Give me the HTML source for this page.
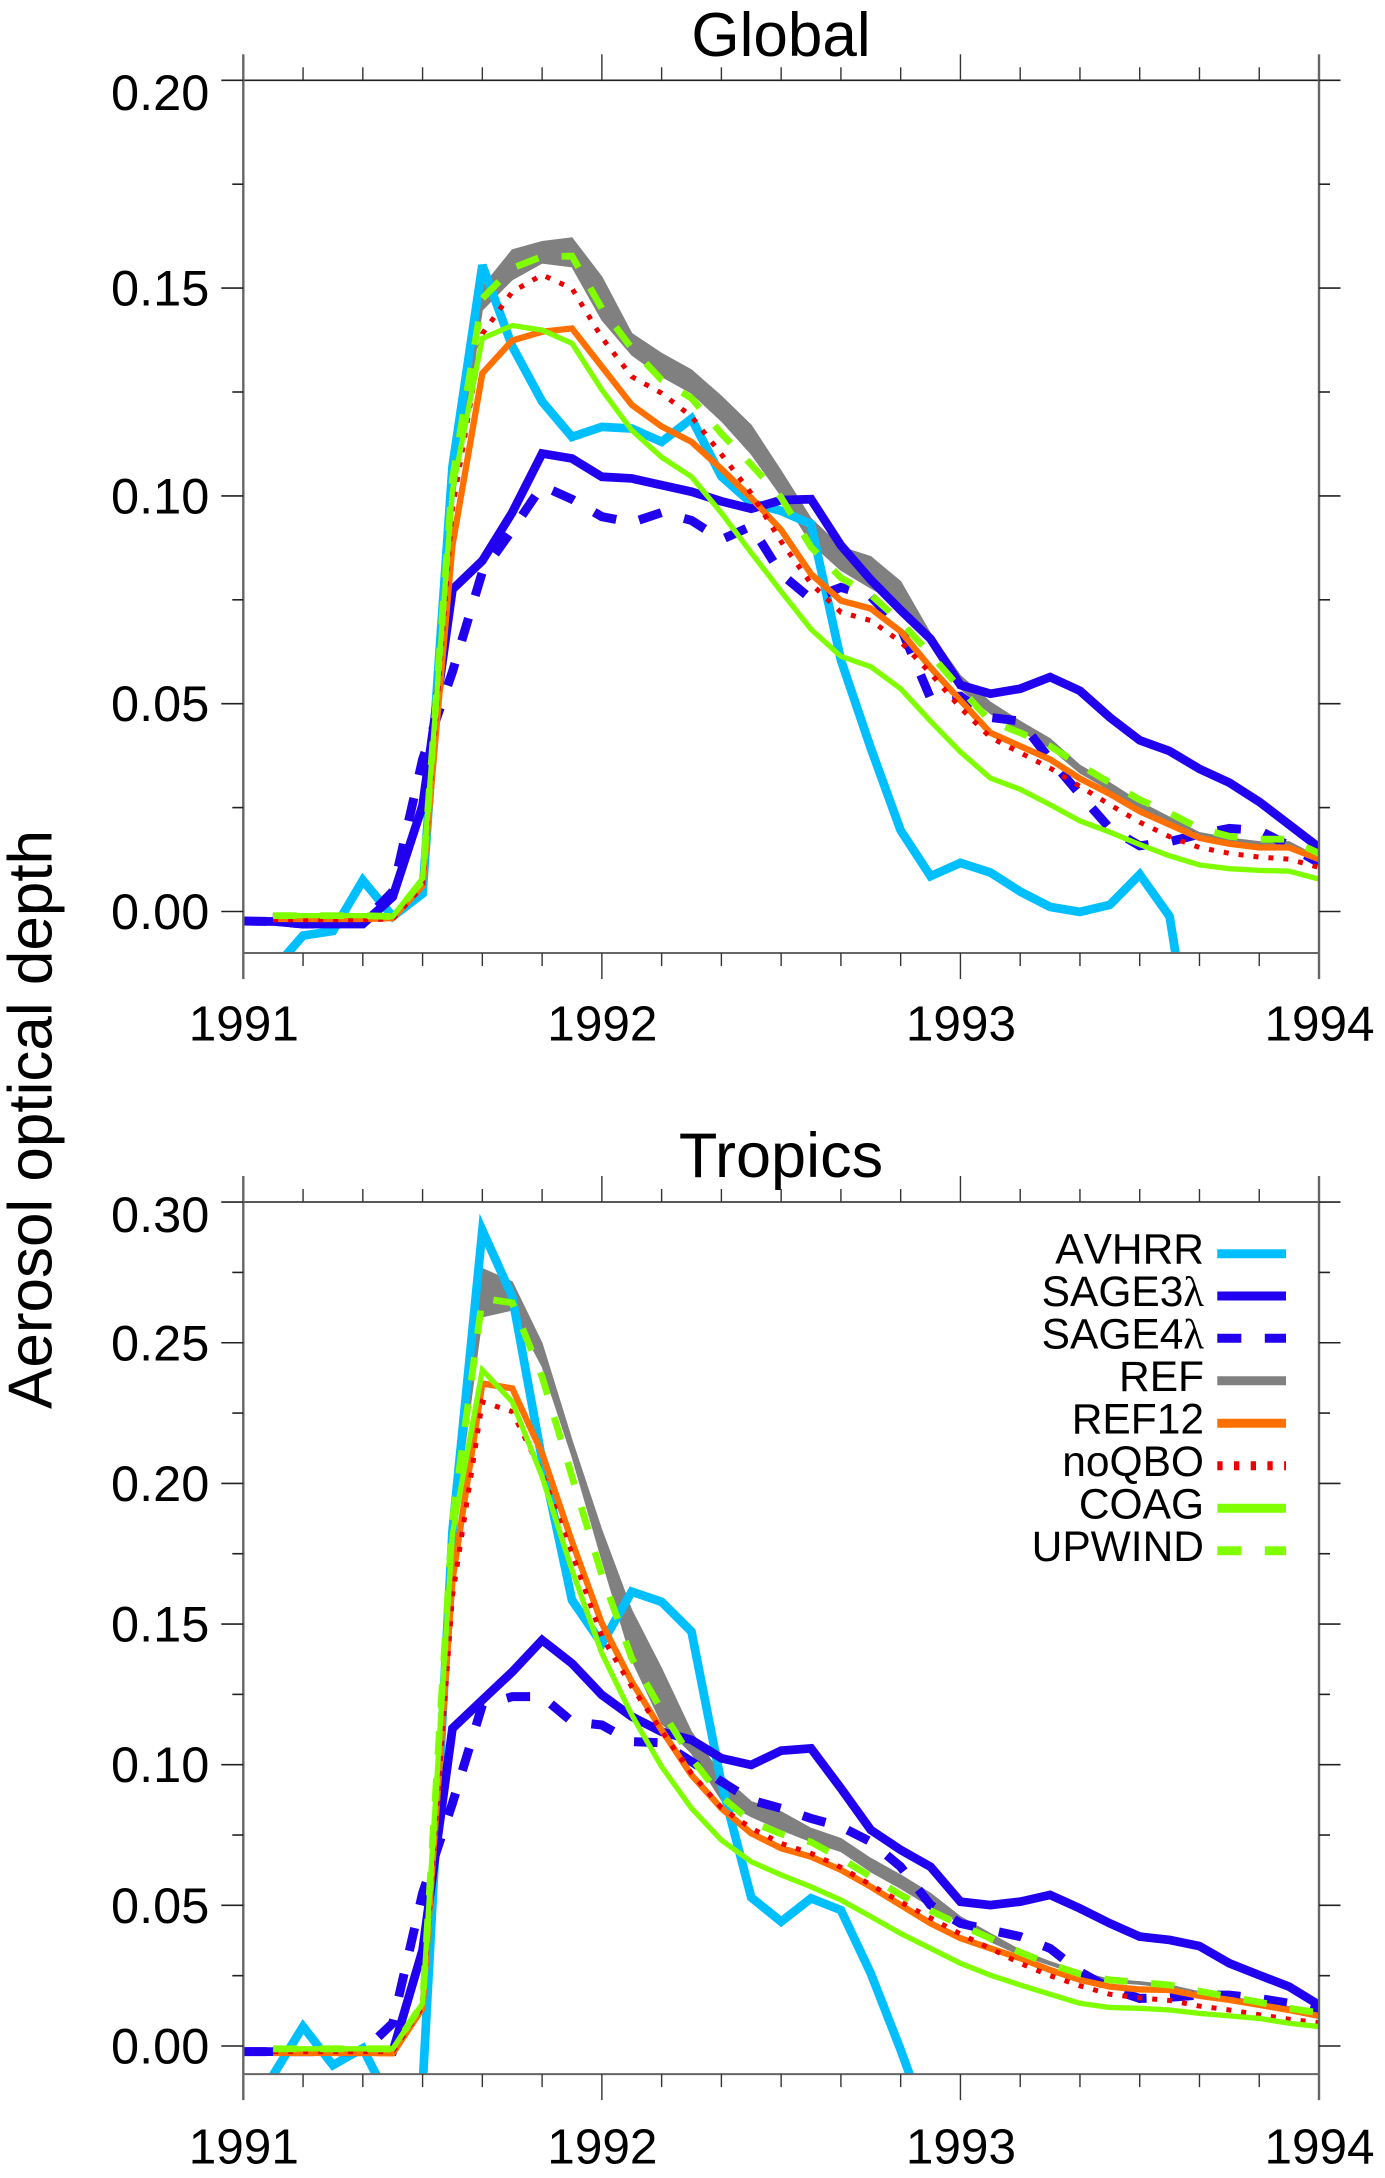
<!DOCTYPE html>
<html lang="en">
<head>
<meta charset="utf-8">
<title>Aerosol optical depth</title>
<style>
html,body{margin:0;padding:0;background:#fff;}
svg{display:block;font-family:"Liberation Sans",sans-serif;}
#legend text{font-kerning:none;}
</style>
</head>
<body>
<svg id="chart" xmlns="http://www.w3.org/2000/svg" width="1385" height="2178" viewBox="0 0 1385 2178">
  <rect x="0" y="0" width="1385" height="2178" fill="#fff"/>
  <defs>
    <clipPath id="clip-global"><rect x="243.3" y="80.3" width="1075.7" height="872.3"/></clipPath>
    <clipPath id="clip-tropics"><rect x="243.3" y="1202" width="1075.7" height="872"/></clipPath>
  </defs>
  <text x="781" y="56" font-size="62" text-anchor="middle">Global</text>
  <text x="781" y="1177" font-size="63" text-anchor="middle">Tropics</text>
  <text transform="translate(51.7 1119.5) rotate(-90)" font-size="62" text-anchor="middle">Aerosol optical depth</text>
  <g id="panel-global"></g>
  <g id="panel-tropics"></g>
  <g id="legend" font-size="42.5" text-anchor="end">
    <g><text x="1204" y="1263.3">AVHRR</text><line x1="1217.3" x2="1286" y1="1253.7" y2="1253.7" stroke="#00BFFF" stroke-width="9"/></g>
    <g><text x="1204" y="1305.8">SAGE3<tspan font-family="'Liberation Serif',serif">λ</tspan></text><line x1="1217.3" x2="1286" y1="1296" y2="1296" stroke="#2000EE" stroke-width="9"/></g>
    <g><text x="1204" y="1348.3">SAGE4<tspan font-family="'Liberation Serif',serif">λ</tspan></text><line x1="1217.3" x2="1286" y1="1338.3" y2="1338.3" stroke="#2000EE" stroke-width="9" stroke-dasharray="24 23.5"/></g>
    <g><text x="1204" y="1390.8">REF</text><line x1="1217.3" x2="1286" y1="1380.7" y2="1380.7" stroke="#808080" stroke-width="9"/></g>
    <g><text x="1204" y="1433.3">REF12</text><line x1="1217.3" x2="1286" y1="1423.3" y2="1423.3" stroke="#FF7000" stroke-width="9"/></g>
    <g><text x="1204" y="1475.8">noQBO</text><line x1="1217.3" x2="1286" y1="1465.7" y2="1465.7" stroke="#EE0000" stroke-width="9" stroke-dasharray="5.3 11.4"/></g>
    <g><text x="1204" y="1518.3">COAG</text><line x1="1217.3" x2="1286" y1="1508.3" y2="1508.3" stroke="#7FFF00" stroke-width="9"/></g>
    <g><text x="1204" y="1560.8">UPWIND</text><line x1="1217.3" x2="1286" y1="1550.7" y2="1550.7" stroke="#7FFF00" stroke-width="9" stroke-dasharray="24 23.5"/></g>
  </g>
</svg>
<script>
// ---- shared tick data ----
const xYearLabels = ["1991", "1992", "1993", "1994"];
const yLabelsGlobal = ["0.00", "0.05", "0.10", "0.15", "0.20"];
const yLabelsTropics = ["0.00", "0.05", "0.10", "0.15", "0.20", "0.25", "0.30"];

// ---- Global panel series (monthly, Jan 1991 to Jan 1994) ----
const globalAvhrr = [null,-0.014,-0.0058,-0.0047,0.0075,-0.0012,0.0043,0.107,0.1555,0.136,0.1227,0.1142,0.1166,0.1162,0.113,0.1186,0.1047,0.0983,0.0964,0.0932,0.0605,0.0393,0.0195,0.0085,0.0117,0.0094,0.0048,0.0011,-0.0001,0.0016,0.0089,-0.0012,-0.046,null,null,null,null];
const globalSage3 = [-0.0023,-0.0024,-0.003,-0.003,-0.003,0.0035,0.0255,0.0775,0.0844,0.096,0.1102,0.109,0.1046,0.1042,0.1026,0.101,0.0987,0.0969,0.099,0.0992,0.0881,0.0798,0.0725,0.0656,0.0545,0.0524,0.0536,0.0564,0.0531,0.0467,0.0412,0.0386,0.0343,0.031,0.0264,0.0209,0.0154];
const globalSage4 = [-0.0023,-0.0024,-0.003,-0.003,-0.0026,0.0048,0.0366,0.0577,0.0817,0.0918,0.1024,0.0992,0.095,0.0936,0.096,0.0941,0.0895,0.0927,0.0812,0.0752,0.078,0.0758,0.0683,0.0513,0.0518,0.0467,0.0458,0.0366,0.0282,0.02,0.0158,0.0168,0.0186,0.02,0.0195,0.0158,0.0117];
const globalRefUpper = [null,-0.0005,-0.0005,-0.0005,-0.0005,-0.0005,0.0075,0.102,0.1503,0.1592,0.1612,0.1621,0.1527,0.1391,0.1343,0.1303,0.124,0.117,0.106,0.0946,0.0877,0.0854,0.0794,0.0669,0.0568,0.0504,0.0458,0.0416,0.0352,0.031,0.0264,0.0227,0.019,0.0177,0.0168,0.0168,0.0131];
const globalRefLower = [null,-0.002,-0.002,-0.002,-0.002,-0.002,0.005,0.097,0.1447,0.152,0.156,0.1551,0.1423,0.1339,0.1287,0.1247,0.118,0.11,0.1,0.0886,0.0821,0.0778,0.0738,0.0655,0.0536,0.0476,0.0435,0.0393,0.0333,0.0292,0.025,0.0218,0.0186,0.0168,0.0158,0.0158,0.0117];
const globalRef12 = [null,-0.0018,-0.0018,-0.0018,-0.0018,-0.0016,0.0062,0.0881,0.1295,0.1374,0.1395,0.1403,0.1311,0.1219,0.1167,0.113,0.1065,0.0995,0.0918,0.0812,0.0748,0.0729,0.0674,0.0587,0.0508,0.043,0.0398,0.0366,0.032,0.0283,0.0241,0.0209,0.0177,0.0163,0.0154,0.0154,0.0126];
const globalNoqbo = [null,-0.002,-0.002,-0.002,-0.002,-0.0018,0.006,0.097,0.139,0.1491,0.1532,0.1499,0.1381,0.1287,0.1247,0.1191,0.11,0.1006,0.089,0.0789,0.072,0.07,0.0649,0.0573,0.049,0.0419,0.0382,0.0345,0.0301,0.0257,0.0215,0.018,0.0154,0.014,0.0131,0.0126,0.0106];
const globalCoag = [null,-0.001,-0.001,-0.001,-0.001,-0.0012,0.008,0.1014,0.1379,0.141,0.1399,0.1367,0.1255,0.1158,0.1093,0.1046,0.0959,0.0863,0.077,0.0679,0.0614,0.0589,0.0536,0.0458,0.0384,0.0321,0.0294,0.0257,0.0218,0.0191,0.0161,0.0134,0.0112,0.0103,0.0099,0.0097,0.0078];
const globalUpwind = [null,-0.001,-0.001,-0.001,-0.001,-0.0012,0.0075,0.104,0.1475,0.1548,0.1576,0.1577,0.1451,0.1355,0.1279,0.1235,0.115,0.1075,0.0996,0.0877,0.0803,0.0762,0.0697,0.0619,0.0536,0.0458,0.043,0.0398,0.0352,0.031,0.0269,0.0237,0.02,0.0181,0.0174,0.0174,0.014];

// ---- Tropics panel series ----
const tropicsAvhrr = [null,-0.0103,0.0069,-0.0068,-0.0008,-0.0219,-0.0145,0.183,0.29,0.2664,0.2083,0.1585,0.143,0.1615,0.1579,0.1473,0.0934,0.0528,0.0442,0.0525,0.0483,0.0258,-0.0014,-0.0306,null,null,null,null,null,null,null,null,null,null,null,null,null];
const tropicsSage3 = [-0.002,-0.002,-0.002,-0.002,-0.002,-0.002,0.0341,0.1129,0.123,0.133,0.1443,0.136,0.1248,0.1171,0.1117,0.1088,0.1023,0.0999,0.105,0.1058,0.0916,0.0768,0.0697,0.0637,0.0513,0.0501,0.0513,0.0537,0.0489,0.0436,0.0389,0.0377,0.0355,0.0294,0.0252,0.0211,0.0146];
const tropicsSage4 = [-0.002,-0.002,-0.002,-0.002,-0.002,0.0081,0.0543,0.0863,0.1212,0.1242,0.1242,0.1153,0.1141,0.1082,0.1078,0.1011,0.094,0.0874,0.0845,0.0809,0.078,0.0726,0.0637,0.0501,0.0436,0.0412,0.0389,0.0347,0.0264,0.0205,0.0169,0.0173,0.0181,0.0181,0.0169,0.0152,0.0122];
const tropicsRefUpper = [null,-0.0005,-0.0005,-0.0005,-0.0005,-0.0005,0.0155,0.187,0.2764,0.2717,0.2498,0.2154,0.1834,0.155,0.1342,0.1117,0.0963,0.0869,0.0833,0.0774,0.0738,0.0667,0.0608,0.0543,0.046,0.04,0.0341,0.03,0.0264,0.0237,0.0229,0.0217,0.0193,0.0175,0.0158,0.014,0.0122];
const tropicsRefLower = [null,-0.002,-0.002,-0.002,-0.002,-0.002,0.0135,0.18,0.2592,0.2616,0.2415,0.2095,0.1727,0.1372,0.1147,0.104,0.0874,0.0815,0.0768,0.0726,0.0691,0.0619,0.056,0.0495,0.0436,0.0371,0.0323,0.0288,0.0252,0.0227,0.0219,0.0207,0.0183,0.0165,0.0148,0.013,0.0112];
const tropicsRef12 = [null,-0.0025,-0.0025,-0.0025,-0.0025,-0.0026,0.0134,0.1656,0.2355,0.2338,0.2107,0.1793,0.1502,0.1295,0.1123,0.0963,0.0845,0.0756,0.0703,0.0673,0.0626,0.0566,0.0501,0.0436,0.0383,0.0347,0.0312,0.027,0.0235,0.0211,0.0201,0.0199,0.0178,0.0164,0.0146,0.0128,0.0107];
const tropicsNoqbo = [null,-0.002,-0.002,-0.002,-0.002,-0.002,0.014,0.16,0.229,0.2255,0.2036,0.1751,0.1455,0.1277,0.112,0.0969,0.0847,0.0774,0.072,0.0685,0.0635,0.0573,0.0512,0.0455,0.0398,0.0347,0.0294,0.025,0.0214,0.0184,0.0171,0.0162,0.0142,0.0128,0.0111,0.0095,0.0083];
const tropicsCoag = [null,-0.001,-0.001,-0.001,-0.001,-0.001,0.0152,0.1822,0.2403,0.229,0.2024,0.1692,0.1396,0.1177,0.0993,0.0845,0.0732,0.0655,0.0608,0.0566,0.0519,0.046,0.04,0.0347,0.0294,0.0252,0.0217,0.0184,0.0152,0.0137,0.0134,0.0128,0.0116,0.0107,0.0098,0.0081,0.0069];
const tropicsUpwind = [null,-0.001,-0.001,-0.001,-0.001,-0.001,0.0152,0.187,0.2658,0.2642,0.2379,0.2024,0.1674,0.1378,0.1194,0.1023,0.0886,0.0797,0.0754,0.0725,0.0667,0.0602,0.0537,0.0481,0.043,0.0383,0.0333,0.0291,0.0256,0.0235,0.0226,0.0217,0.0195,0.0175,0.0156,0.0134,0.0118];

const NS = "http://www.w3.org/2000/svg";
const xLeft = 243.3, xRight = 1319, monthsTotal = 36;
function xScale(m) { return xLeft + (xRight - xLeft) * m / monthsTotal; }

function make(parent, tag, attrs) {
  const el = document.createElementNS(NS, tag);
  for (const k in attrs) el.setAttribute(k, attrs[k]);
  parent.appendChild(el);
  return el;
}

function pathFrom(values, y) {
  let d = "", pen = false;
  values.forEach(function (v, m) {
    if (v === null) { pen = false; return; }
    d += (pen ? "L" : "M") + xScale(m).toFixed(2) + " " + y(v).toFixed(2);
    pen = true;
  });
  return d;
}

function drawSeries(g, values, y, color, width, dash, name) {
  const p = make(g, "path", {d: pathFrom(values, y), fill: "none", stroke: color, "stroke-width": width});
  
  
  if (dash) p.setAttribute("stroke-dasharray", dash);
}

function drawBand(g, upper, lower, y, color, name) {
  let d = "", started = false;
  upper.forEach(function (v, m) {
    if (v === null) return;
    d += (started ? "L" : "M") + xScale(m).toFixed(2) + " " + y(v).toFixed(2);
    started = true;
  });
  for (let m = lower.length - 1; m >= 0; m--) {
    if (lower[m] === null) continue;
    d += "L" + xScale(m).toFixed(2) + " " + y(lower[m]).toFixed(2);
  }
  const p = make(g, "path", {d: d + "Z", fill: color, stroke: color, "stroke-width": 1});
  
  
}

function drawAxes(g, cfg) {
  const y = cfg.y, ink = "#222", axisInk = "#666";
  // horizontal frame
  const top = make(g, "line", {x1: xLeft, x2: xRight, y1: cfg.top, y2: cfg.top, stroke: ink, "stroke-width": 1.6});
  
  
  const bottom = make(g, "line", {x1: xLeft, x2: xRight, y1: cfg.bottom, y2: cfg.bottom, stroke: axisInk, "stroke-width": 2});
  
  
  // x ticks every 2 months, both edges
  for (let m = 0; m <= monthsTotal; m += 2) {
    const major = m % 12 === 0;
    const len = major ? 26 : 13;
    const w = (m === 0 || m === monthsTotal) ? 2.4 : 1.4;
    const c = (m === 0 || m === monthsTotal) ? axisInk : "#333";
    const tb = make(g, "line", {x1: xScale(m), x2: xScale(m), y1: cfg.bottom, y2: cfg.bottom + len, stroke: c, "stroke-width": w});
    
    
    const tt = make(g, "line", {x1: xScale(m), x2: xScale(m), y1: cfg.top, y2: cfg.top - len, stroke: c, "stroke-width": w});
    
    
  }
  // vertical axes
  const left = make(g, "line", {x1: xLeft, x2: xLeft, y1: cfg.top, y2: cfg.bottom, stroke: axisInk, "stroke-width": 2.4});
  
  
  const right = make(g, "line", {x1: xRight, x2: xRight, y1: cfg.top, y2: cfg.bottom, stroke: axisInk, "stroke-width": 2.4});
  
  
  // y ticks
  cfg.yLabels.forEach(function (lab, i) {
    const v = parseFloat(lab);
    const py = y(v);
    const isTopLabel = i === cfg.yLabels.length - 1;
    const t1 = make(g, "line", {x1: xLeft - 22, x2: xLeft, y1: py, y2: py, stroke: ink, "stroke-width": 1.6});
    
    
    const t2 = make(g, "line", {x1: xRight, x2: xRight + 21.5, y1: py, y2: py, stroke: ink, "stroke-width": 1.6});
    
    
    const tx = make(g, "text", {x: xLeft - 34, y: py + 17.5 + (isTopLabel ? 12.4 : 0), "font-size": 50.5, "text-anchor": "end", fill: "#000"});
    
    
    tx.textContent = lab;
    if (!isTopLabel) {
      const mid = y(v + 0.025);
      const m1 = make(g, "line", {x1: xLeft - 11, x2: xLeft, y1: mid, y2: mid, stroke: ink, "stroke-width": 1.6});
      
      
      const m2 = make(g, "line", {x1: xRight, x2: xRight + 11, y1: mid, y2: mid, stroke: ink, "stroke-width": 1.6});
      
      
    }
  });
  // x labels
  xYearLabels.forEach(function (lab, i) {
    const tx = make(g, "text", {x: xScale(i * 12) + 0.5, y: cfg.labelY, "font-size": 49.5, "text-anchor": "middle", fill: "#000"});
    
    
    tx.textContent = lab;
  });
}

function drawPanel(cfg) {
  const g = document.getElementById(cfg.id);
  const yMin = -0.01, y0 = cfg.zeroY, k = cfg.pxPerUnit;
  cfg.y = function (v) { return y0 - v * k; };
  cfg.bottom = cfg.y(yMin);
  const s = make(g, "g", {"clip-path": "url(#" + cfg.clip + ")"});
  
  
  drawBand(s, cfg.refU, cfg.refL, cfg.y, "#808080", "series-ref");
  drawSeries(s, cfg.avhrr, cfg.y, "#00BFFF", 8.7, null, "series-avhrr");
  drawSeries(s, cfg.sage4, cfg.y, "#2000EE", 9, "23.5 23.5", "series-sage4");
  drawSeries(s, cfg.sage3, cfg.y, "#2000EE", 8.7, null, "series-sage3");
  drawSeries(s, cfg.ref12, cfg.y, "#FF7000", 6.3, null, "series-ref12");
  drawSeries(s, cfg.noqbo, cfg.y, "#EE0000", 5, "5 10", "series-noqbo");
  drawSeries(s, cfg.coag, cfg.y, "#7FFF00", 5.3, null, "series-coag");
  drawSeries(s, cfg.upwind, cfg.y, "#7FFF00", 6.8, "23.5 23.5", "series-upwind");
  drawAxes(g, cfg);
}

drawPanel({id: "panel-global", clip: "clip-global", zeroY: 911.5, pxPerUnit: 4156, top: 80.3, labelY: 1040.6, yLabels: yLabelsGlobal,
  avhrr: globalAvhrr, sage3: globalSage3, sage4: globalSage4, refU: globalRefUpper, refL: globalRefLower, ref12: globalRef12, noqbo: globalNoqbo, coag: globalCoag, upwind: globalUpwind});
drawPanel({id: "panel-tropics", clip: "clip-tropics", zeroY: 2046, pxPerUnit: 2813, top: 1202, labelY: 2163.3, yLabels: yLabelsTropics,
  avhrr: tropicsAvhrr, sage3: tropicsSage3, sage4: tropicsSage4, refU: tropicsRefUpper, refL: tropicsRefLower, ref12: tropicsRef12, noqbo: tropicsNoqbo, coag: tropicsCoag, upwind: tropicsUpwind});
</script>
</body>
</html>
